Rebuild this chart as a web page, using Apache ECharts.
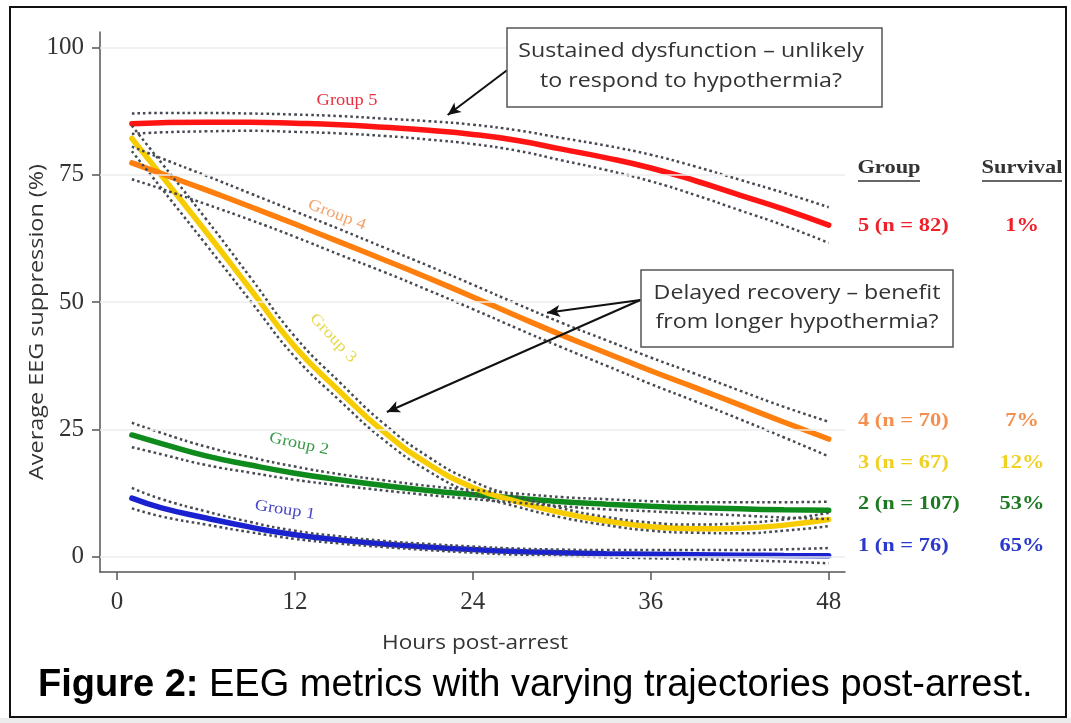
<!DOCTYPE html>
<html>
<head>
<meta charset="utf-8">
<script src="https://cdn.jsdelivr.net/npm/echarts@6/dist/echarts.min.js"></script>
<style>
html,body{margin:0;padding:0;background:#fff;}
#chart{width:1071px;height:723px;}
</style>
</head>
<body>
<div id="chart"></div>
<script>
// ---- data ----
const hours = [1,3,6,9,12,15,18,21,24,27,30,33,36,39,42,45,48];

const g5   = [85.0,85.2,85.3,85.3,85.1,84.8,84.3,83.7,82.9,81.7,80.0,78.3,76.3,73.8,71.0,68.2,65.1];
const g5Hi = [87.0,87.1,87.1,87.0,86.8,86.5,86.0,85.5,84.8,83.7,82.2,80.7,78.9,76.6,74.0,71.4,68.6];
const g5Lo = [83.0,83.3,83.5,83.6,83.4,83.1,82.6,81.9,81.0,79.7,77.8,75.9,73.7,71.0,68.0,65.0,61.6];

const g4   = [77.3,75.2,72.0,68.7,65.3,61.8,58.3,54.7,51.0,47.2,43.5,40.0,36.5,33.2,29.8,26.4,23.1];
const g4Hi = [80.5,78.2,74.8,71.3,67.8,64.3,60.7,57.1,53.4,49.6,45.9,42.5,39.1,35.9,32.6,29.4,26.5];
const g4Lo = [74.1,72.2,69.2,66.1,62.8,59.3,55.9,52.3,48.6,44.8,41.1,37.5,33.9,30.5,27.0,23.4,19.7];

const g3   = [82.1,74.8,63.8,52.5,41.2,32.5,24.5,18.2,13.6,10.8,8.6,7.0,5.9,5.5,5.6,6.2,7.3];
const g3Hi = [84.6,77.3,66.3,54.8,43.2,34.3,26.1,19.6,14.8,11.8,9.5,7.8,6.7,6.3,6.6,7.3,8.6];
const g3Lo = [79.6,72.3,61.3,50.2,39.2,30.7,22.9,16.8,12.4,9.8,7.7,6.2,5.1,4.7,4.6,5.1,6.0];

const g2   = [23.9,22.2,19.8,18.0,16.4,15.1,14.0,13.0,12.2,11.5,10.8,10.3,9.9,9.6,9.4,9.2,9.1];
const g2Hi = [26.3,24.3,21.6,19.5,17.7,16.2,15.0,13.9,13.1,12.4,11.7,11.3,10.9,10.7,10.7,10.7,10.8];
const g2Lo = [21.5,20.1,18.0,16.5,15.1,14.0,13.0,12.1,11.3,10.6,9.9,9.3,8.9,8.5,8.1,7.7,7.4];

const g1   = [11.5,9.6,7.6,5.8,4.3,3.3,2.5,1.9,1.4,1.0,0.8,0.6,0.5,0.4,0.3,0.25,0.2];
const g1Hi = [13.5,11.3,8.9,6.8,5.1,4.0,3.1,2.5,2.0,1.6,1.4,1.3,1.3,1.3,1.3,1.45,1.7];
const g1Lo = [9.5,7.9,6.3,4.8,3.5,2.6,1.9,1.3,0.8,0.4,0.2,-0.1,-0.3,-0.5,-0.7,-0.95,-1.3];

const xTicks = [0,12,24,36,48];
const yTicks = [0,25,50,75,100];

const groupNames = ['Group 1','Group 2','Group 3','Group 4','Group 5'];
const tableGroup = ['1 (n = 76)','2 (n = 107)','3 (n = 67)','4 (n = 70)','5 (n = 82)'];
const tableSurvival = ['65%','53%','12%','7%','1%'];

// ---- styling ----
const lineColors = ['#1a22d0','#0f8a1c','#f7cc00','#ff7f0e','#ff1414'];
const labelColors = ['#4a46c8','#3a9a48','#e6d84c','#f2a46c','#ec3040'];
const tableColors = ['#2a38cc','#1e7a22','#f0d020','#f39050','#f0202a'];

const mains = [g1,g2,g3,g4,g5];
const his = [g1Hi,g2Hi,g3Hi,g4Hi,g5Hi];
const los = [g1Lo,g2Lo,g3Lo,g4Lo,g5Lo];

const pair = arr => hours.map((h,i)=>[h,arr[i]]);

const series = [];
// gridlines
series.push({
  type:'line', data:[], silent:true, z:1,
  markLine:{
    silent:true, symbol:'none', animation:false,
    label:{show:false},
    lineStyle:{color:'#ececec', width:1.5, type:'solid'},
    data: yTicks.map(v=>({yAxis:v}))
  }
});
mains.forEach((d,i)=>{
  series.push({
    type:'line', name:groupNames[i], data:pair(d), smooth:0.5,
    showSymbol:false, symbol:'none', z:3, animation:false,
    lineStyle:{color:lineColors[i], width:5.5, cap:'round'}
  });
});
mains.forEach((d,i)=>{
  [his[i],los[i]].forEach(b=>{
    series.push({
      type:'line', data:pair(b), smooth:0.5,
      showSymbol:false, symbol:'none', z:4, animation:false, silent:true,
      lineStyle:{color:'#464a52', width:2.5, type:[2.6,3.0]}
    });
  });
});
// arrows (in data space)
series.push({
  type:'line', data:[], silent:true, z:6,
  markLine:{
    silent:true, animation:false, symbol:['none','arrow'], symbolSize:[9,13],
    label:{show:false},
    lineStyle:{color:'#111', width:2, type:'solid'},
    data:[
      [{coord:[26.3,95.5]},{coord:[22.3,86.7]}],
      [{coord:[35.3,50.4]},{coord:[29.0,47.9]}],
      [{coord:[35.3,50.4]},{coord:[18.2,28.4]}]
    ]
  }
});

const serif = 'Liberation Serif';
const sans = 'Open Sans';

const graphics = [];
// outer frame
graphics.push({type:'rect', shape:{x:0,y:718,width:1071,height:5}, style:{fill:'#ececec'}, z:0});
graphics.push({type:'rect', shape:{x:10,y:7,width:1056,height:710}, style:{fill:null, stroke:'#111', lineWidth:2}, z:100});

// axis titles
graphics.push({type:'text', x:37, y:322, rotation:Math.PI/2, scaleX:1.17, z:10,
  style:{text:'Average EEG suppression (%)', fill:'#333', font:'20px "'+sans+'"', align:'center', verticalAlign:'middle'}});
graphics.push({type:'text', x:475, y:643, scaleX:1.13, z:10,
  style:{text:'Hours post-arrest', fill:'#333', font:'20px "'+sans+'"', align:'center', verticalAlign:'middle'}});

// group labels in plot
const glab = [
  {t:0, x:285, y:510, r:-9},
  {t:1, x:299, y:444, r:-12},
  {t:2, x:333, y:338, r:-47},
  {t:3, x:337, y:215, r:-21},
  {t:4, x:347, y:101, r:0}
];
glab.forEach(g=>{
  graphics.push({type:'text', x:g.x, y:g.y, rotation:g.r*Math.PI/180, scaleX:1.15, z:10,
    style:{text:groupNames[g.t], fill:labelColors[g.t], font:'16px "'+serif+'"', align:'center', verticalAlign:'middle'}});
});

// annotation boxes
const annFont = '20px "'+sans+'"';
graphics.push({type:'rect', shape:{x:507,y:28,width:375,height:79}, style:{fill:'#fff', stroke:'#555', lineWidth:1.5}, z:20});
graphics.push({type:'text', x:691, y:51, scaleX:1.16, z:21, style:{text:'Sustained dysfunction – unlikely', fill:'#333', font:annFont, align:'center', verticalAlign:'middle'}});
graphics.push({type:'text', x:691, y:81, scaleX:1.16, z:21, style:{text:'to respond to hypothermia?', fill:'#333', font:annFont, align:'center', verticalAlign:'middle'}});
graphics.push({type:'rect', shape:{x:641,y:270,width:312,height:77}, style:{fill:'#fff', stroke:'#555', lineWidth:1.5}, z:20});
graphics.push({type:'text', x:797, y:293, scaleX:1.16, z:21, style:{text:'Delayed recovery – benefit', fill:'#333', font:annFont, align:'center', verticalAlign:'middle'}});
graphics.push({type:'text', x:797, y:322, scaleX:1.16, z:21, style:{text:'from longer hypothermia?', fill:'#333', font:annFont, align:'center', verticalAlign:'middle'}});

// table
const tabFont = 'bold 19px "'+serif+'"';
graphics.push({type:'text', x:889, y:168, scaleX:1.18, z:10, style:{text:'Group', fill:'#333', font:tabFont, align:'center', verticalAlign:'middle'}});
graphics.push({type:'line', shape:{x1:858,y1:181,x2:920,y2:181}, style:{stroke:'#333', lineWidth:1.5}, z:10});
graphics.push({type:'text', x:1022, y:168, scaleX:1.18, z:10, style:{text:'Survival', fill:'#333', font:tabFont, align:'center', verticalAlign:'middle'}});
graphics.push({type:'line', shape:{x1:982,y1:181,x2:1062,y2:181}, style:{stroke:'#333', lineWidth:1.5}, z:10});
const rowY = [546,504,463,421,226];
tableGroup.forEach((t,i)=>{
  graphics.push({type:'text', x:858, y:rowY[i], scaleX:1.18, z:10, style:{text:t, fill:tableColors[i], font:tabFont, align:'left', verticalAlign:'middle'}});
  graphics.push({type:'text', x:1022, y:rowY[i], scaleX:1.18, z:10, style:{text:tableSurvival[i], fill:tableColors[i], font:tabFont, align:'center', verticalAlign:'middle'}});
});

// caption
graphics.push({type:'text', x:38, y:686, z:10, style:{
  text:'{b|Figure 2:} EEG metrics with varying trajectories post-arrest.',
  font:'38px "Liberation Sans"', fill:'#000', align:'left', verticalAlign:'middle',
  rich:{b:{font:'bold 38px "Liberation Sans"', fill:'#000'}}
}});

const chart = echarts.init(document.getElementById('chart'), null, {renderer:'canvas'});
chart.setOption({
  animation:false,
  backgroundColor:'#fff',
  grid:{left:100, top:32, width:745, height:540, containLabel:false, outerBoundsMode:'none'},
  xAxis:{
    type:'value', min:-1.15, max:49.1,
    axisLine:{show:true, onZero:false, lineStyle:{color:'#555', width:1.5}},
    axisTick:{show:true, length:8, customValues:xTicks, lineStyle:{color:'#555', width:1.5}},
    axisLabel:{customValues:xTicks, margin:18, fontFamily:serif, fontSize:25, color:'#333'},
    splitLine:{show:false}
  },
  yAxis:{
    type:'value', min:-3, max:103,
    axisLine:{show:true, onZero:false, lineStyle:{color:'#555', width:1.5}},
    axisTick:{show:true, length:8, customValues:yTicks, lineStyle:{color:'#555', width:1.5}},
    axisLabel:{customValues:yTicks, margin:16, fontFamily:serif, fontSize:25, color:'#333'},
    splitLine:{show:false}
  },
  series: series,
  graphic: graphics
});
</script>
</body>
</html>
